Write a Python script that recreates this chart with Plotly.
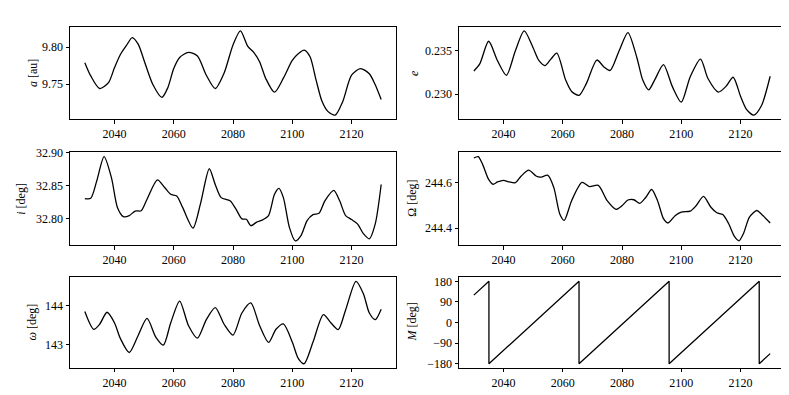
import plotly.graph_objects as go

W, H = 789, 395

a_years = [2030, 2032, 2035, 2038, 2040, 2042, 2044, 2046, 2048, 2050, 2053, 2056, 2058, 2060,
           2062, 2065, 2068, 2071, 2074, 2077, 2080, 2082.5, 2085, 2087, 2089, 2091, 2094, 2097,
           2100, 2102, 2104, 2106, 2108, 2110, 2112, 2114.5, 2117, 2120, 2123, 2126, 2128, 2130]
a_vals = [9.779, 9.761, 9.744, 9.752, 9.772, 9.790, 9.802, 9.813, 9.804, 9.782, 9.749, 9.732,
          9.745, 9.771, 9.786, 9.793, 9.788, 9.762, 9.744, 9.765, 9.803, 9.822, 9.801, 9.793,
          9.780, 9.758, 9.739, 9.758, 9.782, 9.791, 9.796, 9.787, 9.756, 9.727, 9.713, 9.708,
          9.726, 9.762, 9.771, 9.764, 9.749, 9.729]

e_years = [2030, 2032, 2035, 2038, 2041, 2044, 2047, 2050, 2052, 2054, 2056, 2058, 2061, 2063,
           2065.5, 2068, 2071.5, 2074, 2076, 2079, 2082, 2085, 2087, 2089, 2091, 2094, 2097, 2100,
           2103, 2106.5, 2109, 2112.5, 2115, 2117.5, 2120, 2122, 2124.5, 2127, 2130]
e_vals = [0.23267, 0.23350, 0.23613, 0.23387, 0.23218, 0.23500, 0.23733, 0.23538, 0.23387,
          0.23331, 0.23406, 0.23474, 0.23162, 0.23030, 0.22985, 0.23124, 0.23395, 0.23312,
          0.23274, 0.23500, 0.23714, 0.23425, 0.23162, 0.23049, 0.23162, 0.23342, 0.23086,
          0.22906, 0.23199, 0.23406, 0.23180, 0.23023, 0.23086, 0.23195, 0.22974, 0.22823,
          0.22756, 0.22861, 0.23207]

i_years = [2030, 2032, 2034, 2036.5, 2039, 2041, 2043, 2045, 2047, 2049, 2051, 2054.5, 2057, 2059,
           2061, 2063, 2066.5, 2069, 2072, 2074, 2076, 2079, 2081, 2083, 2084.5, 2086, 2088, 2090,
           2092, 2094, 2095.5, 2097, 2099, 2101, 2103, 2105, 2107, 2109, 2111, 2114, 2116, 2118,
           2120, 2122, 2124, 2126, 2128, 2130]
i_vals = [32.8303, 32.8308, 32.8567, 32.8940, 32.8617, 32.8169, 32.8030, 32.8045, 32.8114,
          32.8119, 32.8294, 32.8587, 32.8468, 32.8368, 32.8343, 32.8169, 32.7856, 32.8219,
          32.8756, 32.8517, 32.8318, 32.8269, 32.8144, 32.7995, 32.7990, 32.7891, 32.7945,
          32.7980, 32.8045, 32.8368, 32.8458, 32.8318, 32.7871, 32.7662, 32.7746, 32.7970,
          32.8060, 32.8080, 32.8269, 32.8428, 32.8269, 32.8045, 32.7985, 32.7920, 32.7771,
          32.7692, 32.7920, 32.8517]

node_years = [2030, 2031.5, 2033, 2035, 2036.5, 2038, 2040, 2042, 2044, 2046, 2048.5, 2051,
              2052.5, 2055, 2057, 2059, 2060.5, 2063, 2066.5, 2069, 2072, 2075, 2078, 2080, 2082,
              2084, 2086, 2088, 2090, 2092, 2094, 2095.5, 2098, 2100, 2103, 2105, 2107.5, 2110,
              2112, 2114, 2116, 2118, 2119.5, 2121, 2123, 2125.5, 2127, 2130]
node_vals = [244.708, 244.714, 244.679, 244.614, 244.593, 244.603, 244.610, 244.603, 244.600,
             244.629, 244.655, 244.629, 244.624, 244.632, 244.578, 244.463, 244.435, 244.521,
             244.601, 244.583, 244.588, 244.521, 244.483, 244.499, 244.524, 244.525, 244.509,
             244.535, 244.570, 244.521, 244.442, 244.423, 244.456, 244.471, 244.475, 244.499,
             244.540, 244.492, 244.468, 244.460, 244.420, 244.363, 244.345, 244.377, 244.449,
             244.478, 244.463, 244.423]

peri_years = [2030, 2033, 2035, 2037.5, 2040, 2042, 2045, 2048, 2051, 2054, 2056.5, 2059, 2062,
              2065, 2068, 2071, 2074, 2077, 2080, 2083, 2086, 2089, 2092, 2094.5, 2097, 2100,
              2102, 2104, 2107, 2110.5, 2113, 2115.5, 2118, 2121.5, 2124, 2126, 2128, 2130]
peri_vals = [143.85, 143.39, 143.52, 143.83, 143.56, 143.15, 142.79, 143.23, 143.67, 143.18,
             142.98, 143.56, 144.12, 143.48, 143.16, 143.64, 143.95, 143.52, 143.24, 143.81,
             144.07, 143.48, 143.05, 143.39, 143.53, 143.06, 142.64, 142.50, 143.06, 143.77,
             143.56, 143.38, 143.89, 144.63, 144.31, 143.81, 143.64, 143.91]

M_years = [2030, 2035.1, 2035.1, 2065.5, 2065.5, 2095.9, 2095.9, 2126.3, 2126.3, 2130]
M_vals = [119.6, 180, -180, 180, -180, 180, -180, 180, -180, -136]

# (years, values, label, dtick, tickformat, spline)
panels = [
    (a_years, a_vals, '<i>a</i> [au]', 0.05, '.2f', True),
    (e_years, e_vals, '<i>e</i>', 0.005, '.3f', True),
    (i_years, i_vals, '<i>i</i> [deg]', 0.05, '.2f', True),
    (node_years, node_vals, 'Ω [deg]', 0.2, '.1f', True),
    (peri_years, peri_vals, '<i>ω</i> [deg]', 1, 'd', True),
    (M_years, M_vals, '<i>M</i> [deg]', 90, 'd', False),
]

# pixel boxes of the panels (left, right) and (top, bottom)
cols = [(62, 388), (451, 777)]
rows = [(12, 107), (141, 236), (269, 362)]
label_x = [25, 406, 13, 404, 24, 404]

font = dict(family='Liberation Serif, Times New Roman, serif', size=12, color='black')

fig = go.Figure()
annotations = []
layout = {}

for k, (xs, ys, label, dtick, fmt, smooth) in enumerate(panels):
    r, c = divmod(k, 2)
    n = '' if k == 0 else str(k + 1)
    fig.add_trace(go.Scatter(
        x=xs, y=ys, mode='lines',
        line=dict(color='black', width=1.3, shape='spline' if smooth else 'linear', smoothing=0.75),
        xaxis='x' + n, yaxis='y' + n, showlegend=False, hoverinfo='skip'
    ))

    x0, x1 = min(xs), max(xs)
    y0, y1 = min(ys), max(ys)
    px, py = 0.05 * (x1 - x0), 0.05 * (y1 - y0)
    common = dict(showline=True, linecolor='black', linewidth=1, mirror=True,
                  ticks='outside', ticklen=3.5, tickwidth=0.8, tickcolor='black',
                  showgrid=False, zeroline=False, tickfont=font)
    layout['xaxis' + n] = dict(
        domain=[cols[c][0] / W, cols[c][1] / W], anchor='y' + n,
        range=[x0 - px, x1 + px], tick0=2040, dtick=20, **common
    )
    layout['yaxis' + n] = dict(
        domain=[1 - rows[r][1] / H, 1 - rows[r][0] / H], anchor='x' + n,
        range=[y0 - py, y1 + py], dtick=dtick, tickformat=fmt, **common
    )
    annotations.append(dict(
        text=label, x=label_x[k] / W, y=1 - (rows[r][0] + rows[r][1]) / 2 / H,
        xref='paper', yref='paper', textangle=-90, showarrow=False,
        xanchor='center', yanchor='middle', font=font
    ))

fig.update_layout(
    width=W, height=H,
    margin=dict(l=0, r=0, t=0, b=0),
    paper_bgcolor='white', plot_bgcolor='white',
    font=font,
    annotations=annotations,
    **layout
)

fig.write_html('out.html')
